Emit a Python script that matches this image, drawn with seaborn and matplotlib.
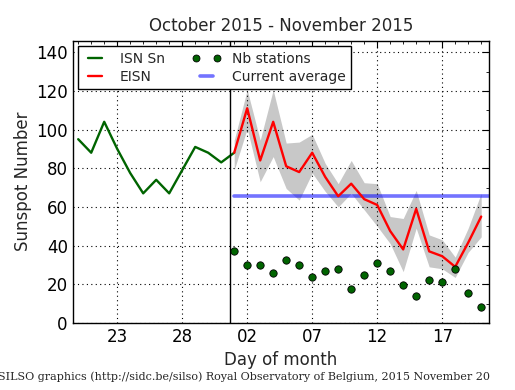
import numpy as np
import pandas as pd
import matplotlib
matplotlib.use("Agg")
import matplotlib.pyplot as plt
import seaborn as sns
from matplotlib.lines import Line2D
from matplotlib.legend_handler import HandlerLine2D
from matplotlib.ticker import MultipleLocator, FixedLocator

# ---- data ----
isn_days = list(range(20, 33))  # Oct 20 .. Nov 1 (Nov 1 = day 32)
isn_vals = [95, 88, 104, 90, 77.5, 67, 74, 67, 79, 91, 88, 83, 88]

eisn_days = list(range(32, 52))  # Nov 1 .. Nov 20
eisn_vals = [88, 111, 84, 104, 81, 78, 88, 75.5, 65.5, 72, 64, 61, 47.5, 38,
             59, 37, 34.5, 29, 41.5, 55]
eisn_upper = [94.5, 120.5, 94.5, 120.5, 93, 93.5, 97.5, 82.5, 72, 84, 72.5, 72,
              55, 54, 68.5, 45.5, 43, 34, 49, 67]
eisn_lower = [79, 100.5, 73, 86, 69.5, 63.5, 77.5, 68, 60, 67, 58.5, 50, 41,
              26.5, 49, 29, 28, 23.5, 36.5, 44.5]
nb_stations = [37, 30, 30, 26, 32.5, 30, 24, 27, 28, 17.5, 25, 31, 27, 19.5,
               14, 22, 21, 28, 15.5, 8]
current_average = 65.5

tick_pos = [23, 28, 33, 38, 43, 48]
tick_labels = ["23", "28", "02", "07", "12", "17"]
month_split = 31.65

# ---- style ----
sns.set_style("white")
plt.rcParams.update({
    "xtick.direction": "in", "ytick.direction": "in",
    "xtick.top": True, "ytick.right": True,
    "xtick.major.size": 5, "ytick.major.size": 5,
    "xtick.minor.size": 2.5, "ytick.minor.size": 2.5,
    "xtick.minor.visible": True,
    "axes.edgecolor": "black", "axes.linewidth": 1.0,
    "xtick.color": "black", "ytick.color": "black",
})
plt.rcParams["font.family"] = ["DejaVu Sans"]

fig = plt.figure(figsize=(5.15, 3.9), dpi=100)
ax = fig.add_axes([0.141, 0.172, 0.8085, 0.724])

df_isn = pd.DataFrame({"day": isn_days, "val": isn_vals})
df_eisn = pd.DataFrame({"day": eisn_days, "val": eisn_vals,
                        "up": eisn_upper, "lo": eisn_lower,
                        "nb": nb_stations})

ax.fill_between(df_eisn["day"], df_eisn["lo"], df_eisn["up"],
                color="#c8c8c8", linewidth=0, zorder=1)
sns.lineplot(data=df_isn, x="day", y="val", color="#006400", linewidth=1.7,
             ax=ax, zorder=3)
sns.lineplot(data=df_eisn, x="day", y="val", color="red", linewidth=1.7,
             ax=ax, zorder=3)
sns.scatterplot(data=df_eisn, x="day", y="nb", color="#006400",
                edgecolor="black", linewidth=0.6, s=28, ax=ax, zorder=4)
ax.plot([eisn_days[0], 51.6], [current_average, current_average],
        color="blue", alpha=0.55, linewidth=2.6, zorder=2)
ax.axvline(month_split, color="black", linewidth=1.0, zorder=5)

ax.set_xlim(19.57, 51.6)
ax.set_ylim(0, 146)
ax.xaxis.set_major_locator(FixedLocator(tick_pos))
ax.set_xticklabels(tick_labels)
ax.xaxis.set_minor_locator(MultipleLocator(1))
ax.yaxis.set_major_locator(MultipleLocator(20))
ax.yaxis.set_minor_locator(MultipleLocator(10))
ax.tick_params(labelsize=12)
ax.grid(True, which="major", color="black", linestyle=(0, (1, 3)),
        linewidth=0.8)
ax.set_axisbelow(False)

ax.set_xlabel("Day of month", fontsize=12)
ax.set_ylabel("Sunspot Number", fontsize=12, labelpad=3)
ax.set_title("October 2015 - November 2015", fontsize=12, pad=7)

h_isn = Line2D([], [], color="#006400", linewidth=1.7)
h_eisn = Line2D([], [], color="red", linewidth=1.7)
h_nb = Line2D([], [], color="#006400", marker="o", linestyle="none",
              markersize=5, markeredgecolor="black", markeredgewidth=0.6)
h_avg = Line2D([], [], color="blue", alpha=0.55, linewidth=2.6)
handles = [h_isn, h_eisn, h_nb, h_avg]
labels = ["ISN Sn", "EISN", "Nb stations", "Current average"]
leg = ax.legend(handles, labels, loc="upper left", ncol=2, fontsize=10,
                numpoints=2, frameon=True, fancybox=False, framealpha=1,
                edgecolor="black", borderaxespad=0.4, handlelength=1.6,
                columnspacing=2.2, handletextpad=1.0, labelspacing=0.3,
                borderpad=0.4,
                handler_map={h_nb: HandlerLine2D(numpoints=2, marker_pad=0.05)})
leg.get_frame().set_linewidth(1.0)

fig.text(0.474, 0.035,
         "SILSO graphics (http://sidc.be/silso) Royal Observatory of Belgium, 2015 November 20",
         ha="center", va="center", fontsize=8, family="DejaVu Serif")

fig.savefig("out.png", dpi=100)
